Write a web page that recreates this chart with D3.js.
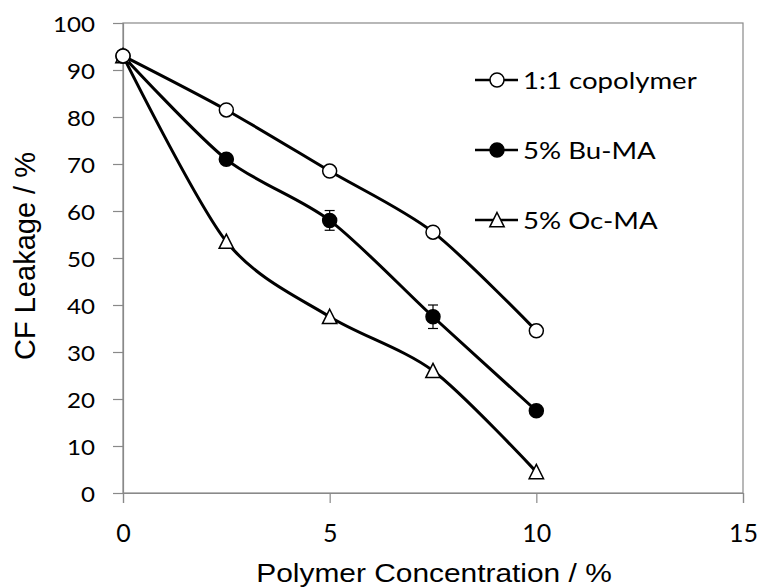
<!DOCTYPE html>
<html>
<head>
<meta charset="utf-8">
<script src="https://cdn.jsdelivr.net/npm/d3@7/dist/d3.min.js"></script>
<style>
  body { margin: 0; background: #fff; }
  svg { display: block; }
</style>
</head>
<body>
<div id="chart"></div>
<script>
// data
var concentrations = [0, 2.5, 5, 7.5, 10];
var seriesNames = ['1:1 copolymer', '5% Bu-MA', '5% Oc-MA'];
var copolymer = [93, 81.5, 68.5, 55.5, 34.5];
var buMA = [93, 71, 58, 37.5, 17.5];
var buMAErr = [0, 0, 2.1, 2.5, 0];
var ocMA = [93, 53.5, 37.5, 26, 4.5];
var xTicks = [0, 5, 10, 15];
var yTicks = [0, 10, 20, 30, 40, 50, 60, 70, 80, 90, 100];

var width = 760, height = 588;
var plotL = 123, plotR = 743, plotT = 23, plotB = 493;

var svg = d3.select('#chart').append('svg')
  .attr('width', width)
  .attr('height', height);

var x = d3.scaleLinear().domain([0, 15]).range([plotL, plotR]);
var y = d3.scaleLinear().domain([0, 100]).range([plotB, plotT]);

var tickFont = 'Lato, "Open Sans", sans-serif';
var titleFont = '"Liberation Sans", Arial, sans-serif';
var stretch = 1.15; // the figure's text is a bit wider than tall

// plot frame
svg.append('rect')
  .attr('x', plotL).attr('y', plotT)
  .attr('width', plotR - plotL).attr('height', plotB - plotT)
  .attr('fill', 'none')
  .attr('stroke', '#898989')
  .attr('stroke-width', 1.2);

// axes
var yAxis = svg.append('g')
  .attr('transform', 'translate(' + plotL + ',0)')
  .call(d3.axisLeft(y).tickValues(yTicks).tickSize(10).tickPadding(10));
var xAxis = svg.append('g')
  .attr('transform', 'translate(0,' + plotB + ')')
  .call(d3.axisBottom(x).tickValues(xTicks).tickSize(10));

[yAxis, xAxis].forEach(function(g){
  g.select('.domain').attr('stroke', '#898989').attr('stroke-width', 1.2);
  g.selectAll('.tick line').attr('stroke', '#898989').attr('stroke-width', 1.2);
  g.selectAll('.tick text')
    .attr('fill', '#000')
    .style('font-family', tickFont);
});

yAxis.selectAll('.tick text')
  .style('font-size', '21px')
  .attr('x', -28 / stretch)
  .attr('dy', '0.42em')
  .attr('transform', 'scale(' + stretch + ',1)');

xAxis.selectAll('.tick text')
  .style('font-size', '25px')
  .attr('y', 0)
  .attr('dy', 49);

// axis titles
svg.append('text')
  .attr('transform', 'translate(434,582) scale(' + stretch + ',1)')
  .attr('text-anchor', 'middle')
  .style('font-family', titleFont)
  .style('font-size', '26px')
  .text('Polymer Concentration / %');

svg.append('text')
  .attr('transform', 'translate(35,256) rotate(-90)')
  .attr('text-anchor', 'middle')
  .style('font-family', titleFont)
  .style('font-size', '29px')
  .text('CF Leakage / %');

var series = [
  { name: seriesNames[0], values: copolymer, err: null, marker: 'circle', fill: '#fff' },
  { name: seriesNames[1], values: buMA, err: buMAErr, marker: 'circle', fill: '#000' },
  { name: seriesNames[2], values: ocMA, err: null, marker: 'triangle', fill: '#fff' }
];

var line = d3.line()
  .x(function(d) { return x(d[0]); })
  .y(function(d) { return y(d[1]); })
  .curve(d3.curveCardinal.tension(0.15));

function drawMarker(g, type, fill, cx, cy) {
  if (type === 'circle') {
    g.append('circle')
      .attr('cx', cx).attr('cy', cy).attr('r', 7)
      .attr('fill', fill).attr('stroke', '#000').attr('stroke-width', 1.5);
  } else {
    g.append('path')
      .attr('d', 'M' + cx + ',' + (cy - 7.5) + 'L' + (cx + 7.2) + ',' + (cy + 6.8) + 'L' + (cx - 7.2) + ',' + (cy + 6.8) + 'Z')
      .attr('fill', fill).attr('stroke', '#000').attr('stroke-width', 1.5);
  }
}

// lines first
series.slice().reverse().forEach(function(s) {
  var pts = concentrations.map(function(c, i) { return [c, s.values[i]]; });
  svg.append('path')
    .datum(pts)
    .attr('d', line)
    .attr('fill', 'none')
    .attr('stroke', '#000')
    .attr('stroke-width', 3);
});

series.slice().reverse().forEach(function(s) {
  var g = svg.append('g');
  concentrations.forEach(function(c, i) {
    if (s.err && s.err[i] > 0) {
      var x0 = x(c), y1 = y(s.values[i] + s.err[i]), y2 = y(s.values[i] - s.err[i]);
      g.append('line').attr('x1', x0).attr('x2', x0).attr('y1', y1).attr('y2', y2)
        .attr('stroke', '#000').attr('stroke-width', 1.2);
      [y1, y2].forEach(function(yy) {
        g.append('line').attr('x1', x0 - 5).attr('x2', x0 + 5).attr('y1', yy).attr('y2', yy)
          .attr('stroke', '#000').attr('stroke-width', 1.2);
      });
    }
    drawMarker(g, s.marker, s.fill, x(c), y(s.values[i]));
  });
});

// legend
var legendY = [80, 150, 220];
series.forEach(function(s, i) {
  var g = svg.append('g');
  g.append('line')
    .attr('x1', 475).attr('x2', 518)
    .attr('y1', legendY[i]).attr('y2', legendY[i])
    .attr('stroke', '#000').attr('stroke-width', 2.5);
  drawMarker(g, s.marker, s.fill, 497, legendY[i]);
  g.append('text')
    .attr('transform', 'translate(523,' + (legendY[i] + 8.5) + ') scale(' + stretch + ',1)')
    .style('font-family', tickFont)
    .style('font-size', '24px')
    .text(s.name);
});
</script>
</body>
</html>
